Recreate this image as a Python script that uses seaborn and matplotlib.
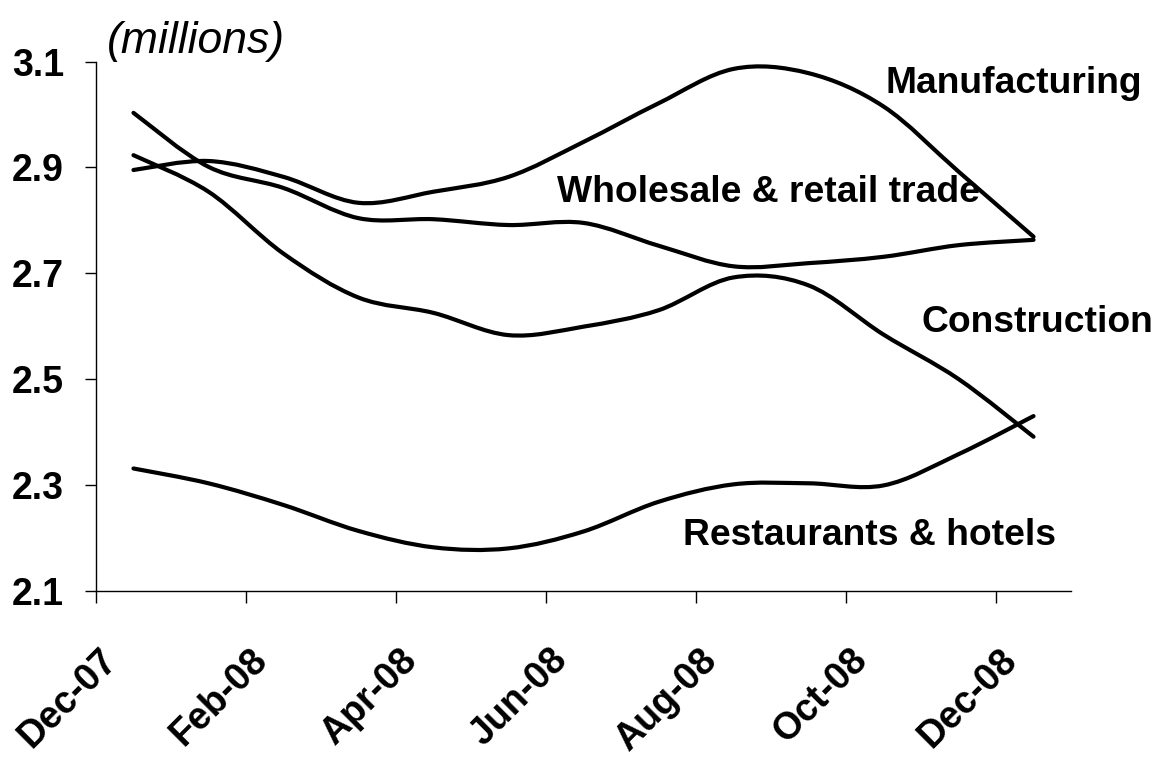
import numpy as np
import pandas as pd
import matplotlib
matplotlib.use("Agg")
import matplotlib.pyplot as plt
import matplotlib.transforms as mtransforms
from matplotlib.path import Path
from matplotlib.patches import PathPatch
import seaborn as sns

# monthly employment by sector, millions
months = ["Dec-07", "Jan-08", "Feb-08", "Mar-08", "Apr-08", "May-08", "Jun-08",
          "Jul-08", "Aug-08", "Sep-08", "Oct-08", "Nov-08", "Dec-08"]
manufacturing = [2.895, 2.912, 2.882, 2.833, 2.854, 2.882, 2.948,
                 3.021, 3.086, 3.078, 3.015, 2.892, 2.769]
wholesale = [3.003, 2.901, 2.861, 2.804, 2.802, 2.791, 2.795,
             2.752, 2.713, 2.719, 2.731, 2.753, 2.763]
construction = [2.923, 2.854, 2.737, 2.654, 2.625, 2.583, 2.599,
                2.630, 2.692, 2.677, 2.584, 2.500, 2.391]
restaurants = [2.331, 2.303, 2.262, 2.213, 2.182, 2.180, 2.212,
               2.268, 2.301, 2.303, 2.299, 2.358, 2.430]
sectors = ["Manufacturing", "Wholesale & retail trade", "Construction", "Restaurants & hotels"]
y_ticks = [2.1, 2.3, 2.5, 2.7, 2.9, 3.1]

df = pd.DataFrame({"month": months,
                   sectors[0]: manufacturing, sectors[1]: wholesale,
                   sectors[2]: construction, sectors[3]: restaurants})
long_df = df.melt(id_vars="month", var_name="sector", value_name="jobs")
long_df["pos"] = long_df["month"].map({m: i for i, m in enumerate(months)})


def smooth_path(xs, ys):
    """Excel-like smoothed line: cubic Bezier segments through every point."""
    pts = np.column_stack([xs, ys]).astype(float)
    n = len(pts)
    verts, codes = [pts[0]], [Path.MOVETO]
    for i in range(n - 1):
        p0, p1 = pts[max(i - 1, 0)], pts[i]
        p2, p3 = pts[i + 1], pts[min(i + 2, n - 1)]
        verts += [p1 + (p2 - p0) / 6, p2 - (p3 - p1) / 6, p2]
        codes += [Path.CURVE4] * 3
    return Path(verts, codes)


sns.set_theme(style="ticks")
plt.rcParams["font.family"] = ["Liberation Sans", "DejaVu Sans"]
plt.rcParams["text.color"] = "black"

fig = plt.figure(figsize=(11.59, 7.65), dpi=100)
ax = fig.add_axes([0.0828, 0.2278, 0.8413, 0.6918])

for name, g in long_df.groupby("sector", sort=False):
    ax.add_patch(PathPatch(smooth_path(g["pos"], g["jobs"]), fill=False,
                           edgecolor="black", linewidth=3, capstyle="round",
                           joinstyle="round"))

ax.set_xlim(-0.5, len(months) - 0.5)
ax.set_ylim(2.1, 3.1)

# tick marks between categories, labels on every other month
ax.set_xticks(np.arange(-0.5, len(months) - 1, 2))
ax.set_xticks(np.arange(0, len(months), 2), minor=True)
ax.set_xticklabels(months[::2], minor=True)
ax.tick_params(axis="x", which="major", length=8.6, width=1, color="black",
               direction="out", labelbottom=False)
ax.tick_params(axis="x", which="minor", length=0, pad=37, labelsize=27,
               labelcolor="black")
shift = mtransforms.ScaledTranslation(-9 / 100, 0, fig.dpi_scale_trans)
for lab in ax.get_xticklabels(minor=True):
    lab.set_rotation(45)
    lab.set_ha("right")
    lab.set_va("top")
    lab.set_fontweight("bold")
    lab.set_transform(lab.get_transform() + shift)

ax.set_yticks(y_ticks)
ax.set_yticklabels([f"{v:.1f}" for v in y_ticks], fontweight="bold")
ax.tick_params(axis="y", length=8, width=1, color="black", direction="out",
               pad=15, labelsize=27, labelcolor="black")

sns.despine(ax=ax)
for side in ["left", "bottom"]:
    ax.spines[side].set_color("black")
    ax.spines[side].set_linewidth(1)
ax.set_xlabel("")
ax.set_ylabel("")

label_kw = dict(fontsize=26.8, fontweight="bold", ha="left", va="baseline", color="black")
ax.text(10.03, 3.040, "Manufacturing", **label_kw)
ax.text(5.65, 2.834, "Wholesale & retail trade", **label_kw)
ax.text(10.50, 2.589, "Construction", clip_on=False, **label_kw)
ax.text(7.32, 2.186, "Restaurants & hotels", **label_kw)
ax.text(-0.35, 3.116, "(millions)", fontsize=32, style="italic", ha="left",
        va="baseline", color="black", clip_on=False)

fig.savefig("out.png", dpi=100)
